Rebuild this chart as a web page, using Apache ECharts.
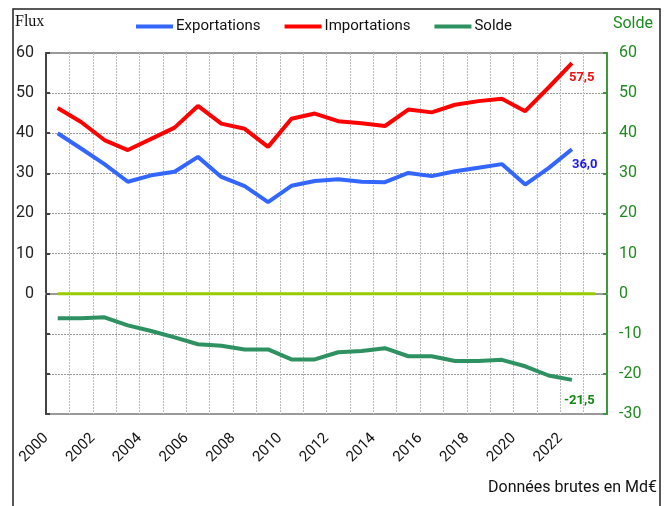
<!DOCTYPE html>
<html><head><meta charset="utf-8">
<script src="https://cdn.jsdelivr.net/npm/echarts@6/dist/echarts.min.js"></script>
<style>html,body{margin:0;padding:0;background:#fff}#c{width:669px;height:506px}</style>
</head><body><div id="c"></div>
<script>
const years = ['2000','2001','2002','2003','2004','2005','2006','2007','2008','2009','2010','2011','2012','2013','2014','2015','2016','2017','2018','2019','2020','2021','2022','2023'];
const tickYears = ['2000','2001','2002','2003','2004','2005','2006','2007','2008','2009','2010','2011','2012','2013','2014','2015','2016','2017','2018','2019','2020','2021','2022','',''];
const exportations = [40.0,36.2,32.3,27.9,29.5,30.4,34.1,29.1,26.8,22.8,26.9,28.1,28.5,27.9,27.8,30.1,29.3,30.5,31.4,32.3,27.2,31.3,36.0];
const importations = [46.3,42.8,38.3,35.8,38.6,41.4,46.8,42.4,41.1,36.6,43.6,44.9,43.0,42.5,41.8,45.9,45.2,47.1,48.0,48.6,45.5,51.4,57.5];
const solde = [-6.1,-6.1,-5.9,-7.9,-9.3,-10.9,-12.6,-13.0,-13.9,-13.9,-16.4,-16.4,-14.6,-14.3,-13.6,-15.6,-15.6,-16.8,-16.8,-16.5,-18.1,-20.4,-21.5];
const zeroLine = [0,0,0,0,0,0,0,0,0,0,0,0,0,0,0,0,0,0,0,0,0,0,0,0];
const seriesNames = ['Exportations','Importations','Solde'];
const axisMin = -30, axisMax = 60, axisStep = 10;

const chart = echarts.init(document.getElementById('c'), null, {renderer:'canvas'});
const fmt = p => p.value.toFixed(1).replace('.', ',');
chart.setOption({
  animation:false,
  textStyle:{fontFamily:'Roboto'},
  grid:{left:46, right:62, top:53, bottom:92, show:true, borderColor:'#999', borderWidth:2, backgroundColor:'transparent'},
  legend:{left:131, top:14, itemWidth:37, itemHeight:4, itemGap:24, icon:'rect',
    textStyle:{fontFamily:'Roboto', fontSize:15, color:'#111', padding:[0,0,0,-2]}, data:seriesNames},
  graphic:[
    {type:'rect', shape:{x:13, y:9, width:647, height:520}, style:{fill:'none', stroke:'#222', lineWidth:1.5}, silent:true},
    {type:'text', left:15, top:14, style:{text:'Flux', font:'16px "Liberation Serif"', fill:'#111'}},
    {type:'text', right:16, top:16, style:{text:'Solde', font:'16px Roboto', fill:'#1f8a1f'}},
    {type:'text', right:12, top:480, style:{text:'Données brutes en Md€', font:'16px Roboto', fill:'#111'}}
  ],
  xAxis:[
    {type:'category', data:years, boundaryGap:true, position:'bottom',
     axisLine:{show:true, lineStyle:{color:'#999', width:2}}, axisTick:{show:false}, axisLabel:{show:false},
     splitLine:{show:true, interval:0, lineStyle:{color:'#bbb', width:1, type:[2,1]}}},
    {type:'category', data:tickYears, boundaryGap:false, position:'bottom',
     axisLine:{show:false}, axisTick:{show:false}, splitLine:{show:false},
     axisLabel:{show:true, interval:1, rotate:45, margin:22, fontFamily:'Roboto', fontSize:15, color:'#111'}}
  ],
  yAxis:[
    {type:'value', min:axisMin, max:axisMax, interval:axisStep, position:'left',
     axisLine:{show:true, lineStyle:{color:'#444', width:2}},
     axisTick:{show:true, inside:true, length:4, lineStyle:{color:'#444', width:2}},
     axisLabel:{fontFamily:'Roboto', fontSize:16, color:'#222', margin:12, formatter:v => v >= 0 ? String(v) : ''},
     splitLine:{show:true, lineStyle:{color:'#999', width:1, type:[2,1]}}},
    {type:'value', min:axisMin, max:axisMax, interval:axisStep, position:'right',
     axisLine:{show:true, lineStyle:{color:'#3a9a3a', width:2}},
     axisTick:{show:true, inside:true, length:4, lineStyle:{color:'#3a9a3a', width:2}},
     axisLabel:{fontFamily:'Roboto', fontSize:16, color:'#1f8a1f', margin:12},
     splitLine:{show:false}}
  ],
  series:[
    {name:'zero', type:'line', data:zeroLine, xAxisIndex:0, yAxisIndex:1, symbol:'none', lineStyle:{color:'#99cc00', width:3}, z:2},
    {name:'Exportations', type:'line', data:exportations, xAxisIndex:0, yAxisIndex:0, symbol:'none', color:'#3366ff',
     lineStyle:{color:'#3366ff', width:4}, endLabel:{show:true, formatter:fmt, color:'#1a1aee', fontWeight:'bold', fontSize:13, fontFamily:'Roboto', offset:[-8,15]}},
    {name:'Importations', type:'line', data:importations, xAxisIndex:0, yAxisIndex:0, symbol:'none', color:'#ff0000',
     lineStyle:{color:'#ff0000', width:4}, endLabel:{show:true, formatter:fmt, color:'#ee1111', fontWeight:'bold', fontSize:13, fontFamily:'Roboto', offset:[-11,15]}},
    {name:'Solde', type:'line', data:solde, xAxisIndex:0, yAxisIndex:1, symbol:'none', color:'#2e9162',
     lineStyle:{color:'#2e9162', width:4}, endLabel:{show:true, formatter:fmt, color:'#118811', fontWeight:'bold', fontSize:13, fontFamily:'Roboto', offset:[-16,21]}}
  ]
});
</script></body></html>
